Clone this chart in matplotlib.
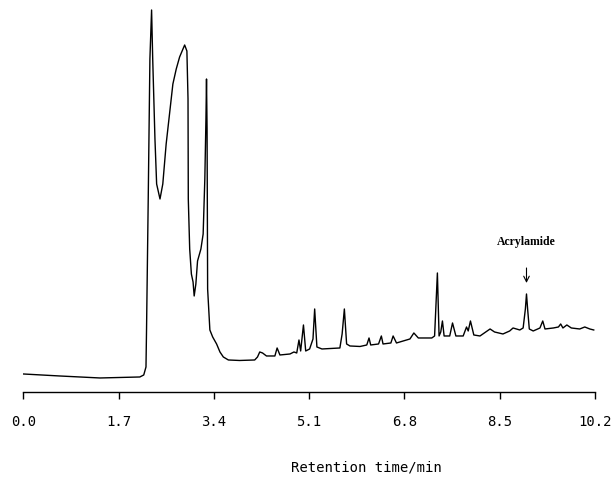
import matplotlib
matplotlib.use("Agg")
import matplotlib.pyplot as plt

# retention time (min) and detector response (arbitrary units)
time_min = [0.00, 0.65, 1.37, 2.08, 2.15, 2.19, 2.20, 2.23, 2.26, 2.29,
            2.31, 2.35, 2.38, 2.44, 2.49, 2.55, 2.62, 2.67, 2.73, 2.79,
            2.85, 2.88, 2.90, 2.92, 2.94, 2.945, 2.97, 3.00, 3.03, 3.05,
            3.08, 3.11, 3.17, 3.21, 3.24, 3.26, 3.27, 3.28, 3.29, 3.33,
            3.38, 3.45, 3.51, 3.57, 3.66, 3.86, 4.13, 4.18, 4.22, 4.27,
            4.34, 4.49, 4.53, 4.58, 4.76, 4.83, 4.88, 4.92, 4.95, 5.00,
            5.04, 5.11, 5.17, 5.20, 5.24, 5.33, 5.65, 5.69, 5.73, 5.77,
            5.83, 6.01, 6.13, 6.17, 6.20, 6.34, 6.39, 6.42, 6.56, 6.60,
            6.66, 6.90, 6.97, 7.05, 7.29, 7.34, 7.39, 7.42, 7.45, 7.48,
            7.51, 7.61, 7.66, 7.72, 7.85, 7.91, 7.94, 7.98, 8.04, 8.15,
            8.33, 8.41, 8.56, 8.68, 8.74, 8.86, 8.92, 8.96, 8.98, 9.00,
            9.03, 9.10, 9.22, 9.27, 9.31, 9.46, 9.55, 9.59, 9.63, 9.70,
            9.78, 9.93, 10.02, 10.11, 10.18]
response = [18, 16, 14, 15, 17, 25, 63, 193, 333, 382,
            333, 253, 208, 193, 208, 248, 283, 308, 323, 335,
            343, 347, 344, 341, 293, 193, 143, 118, 110, 96,
            108, 131, 143, 158, 213, 273, 313, 263, 103, 62,
            55, 48, 40, 35, 32, 31.5, 32, 35, 40, 39,
            36, 36, 44, 37, 38, 40, 39, 52, 41, 67,
            41, 43, 53, 83, 45, 43, 44, 58, 83, 48,
            46, 45.5, 47, 54, 47, 48, 56, 48, 49, 56,
            49, 53, 59, 54, 54, 56, 119, 56, 60, 71,
            56, 56, 69, 56, 56, 65, 61, 71, 57, 56,
            63, 60, 58, 61, 64, 62, 64, 83, 98, 83,
            63, 61, 64, 71, 63, 64, 65, 68, 64, 67,
            64, 63, 65, 63, 62]

tick_values = [0.0, 1.7, 3.4, 5.1, 6.8, 8.5, 10.2]
tick_labels = ["0.0", "1.7", "3.4", "5.1", "6.8", "8.5", "10.2"]

acryl_time = 8.98
acryl_peak = 98

fig = plt.figure(figsize=(6.12, 4.81), dpi=100)
ax = fig.add_axes([0.038, 0.183, 0.934, 0.817])

ax.plot(time_min, response, color="black", lw=1.0)

ax.set_xlim(0, 10.2)
ax.set_ylim(0, 393)

for side in ["left", "right", "top"]:
    ax.spines[side].set_visible(False)
ax.spines["bottom"].set_linewidth(1.0)
ax.set_yticks([])
ax.set_xticks(tick_values)
ax.set_xticklabels(tick_labels, family="DejaVu Sans Mono", fontsize=10)
ax.tick_params(axis="x", direction="out", length=5, width=1.0, pad=11)

# arrow and label over the acrylamide peak
ax.annotate("", xy=(acryl_time, acryl_peak + 11), xytext=(acryl_time, acryl_peak + 26),
            arrowprops=dict(arrowstyle="->", lw=0.8, color="black",
                            shrinkA=0, shrinkB=0))
ax.text(acryl_time, acryl_peak + 53, "Acrylamide", ha="center", va="center",
        family="Liberation Serif", fontweight="bold", fontsize=8.5)

fig.text(0.598, 1 - 468 / 481, "Retention time/min", ha="center", va="center",
         family="DejaVu Sans Mono", fontsize=10)

fig.savefig("out.png", dpi=100)
